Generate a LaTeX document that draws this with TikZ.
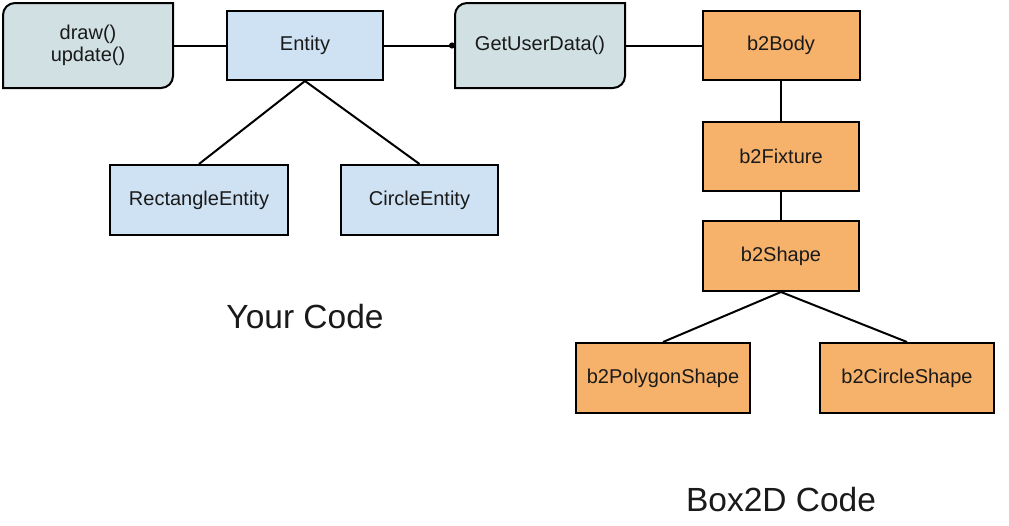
\documentclass[tikz,border=0pt]{standalone}
\usepackage{fontspec}
\setmainfont{Liberation Sans}
\usetikzlibrary{arrows.meta,backgrounds}
\definecolor{gblue}{HTML}{D0E0E3}
\definecolor{lblue}{HTML}{CFE2F3}
\definecolor{orng}{HTML}{F6B26B}
\definecolor{txt}{HTML}{1A1A1A}
\tikzset{
  base/.style={line width=2pt, draw=black, inner sep=0pt, text=txt, font=\fontsize{20}{22.5}\selectfont, align=center},
  bluebox/.style={base, fill=lblue, minimum height=69pt},
  orangebox/.style={base, fill=orng, minimum height=69pt},
  roundbox/.style={base, draw=none, minimum width=168pt, minimum height=83pt},
  conn/.style={line width=2pt, draw=black},
  title/.style={text=txt, font=\fontsize{33.5}{40}\selectfont}
}
\begin{document}
\begin{tikzpicture}[x=1pt,y=1pt]
\useasboundingbox (0,0) rectangle (1009,-525);
% nodes
\node[roundbox] (du) at (88,-45.5) {draw()\\update()};
\node[bluebox, minimum width=156pt] (ent) at (305,-45.5) {Entity};
\node[roundbox] (gud) at (540,-45.5) {GetUserData()};
\node[orangebox, minimum width=157pt] (body) at (781,-45.5) {b2Body};
\node[orangebox, minimum width=156pt] (fix) at (781,-156.5) {b2Fixture};
\node[orangebox, minimum width=156pt, minimum height=70pt] (shape) at (781,-256) {b2Shape};
\node[bluebox, minimum width=178pt, minimum height=70pt] (rect) at (199,-200) {RectangleEntity};
\node[bluebox, minimum width=157pt, minimum height=70pt] (circ) at (419.5,-200) {CircleEntity};
\node[orangebox, minimum width=174pt, minimum height=70pt] (poly) at (663,-378) {b2PolygonShape};
\node[orangebox, minimum width=174pt, minimum height=70pt] (cshape) at (907,-378) {b2CircleShape};
\node[title] (yc) at (305,-317) {Your Code};
\node[title] (bc) at (781,-500) {Box2D Code};
% background and rounded boxes
\begin{scope}[on background layer]
\fill[white] (0,0) rectangle (1009,-525);
\foreach \n in {du,gud}{
  \draw[line width=2pt, fill=gblue]
    ([yshift=-12pt]\n.north west) arc[start angle=180,end angle=90,radius=12pt]
    -- (\n.north east) -- ([yshift=12pt]\n.south east)
    arc[start angle=0,end angle=-90,radius=12pt]
    -- (\n.south west) -- cycle;
}
\end{scope}
% connectors
\draw[conn] (du.east) -- (ent.west);
\draw[conn, -{Circle[length=6pt]}] (ent.east) -- (gud.west);
\draw[conn] (gud.east) -- (body.west);
\draw[conn] (body.south) -- (fix.north);
\draw[conn] (fix.south) -- (shape.north);
\draw[conn] (ent.south) -- (rect.north);
\draw[conn] (ent.south) -- (circ.north);
\draw[conn] (shape.south) -- (poly.north);
\draw[conn] (shape.south) -- (cshape.north);
\end{tikzpicture}
\end{document}
